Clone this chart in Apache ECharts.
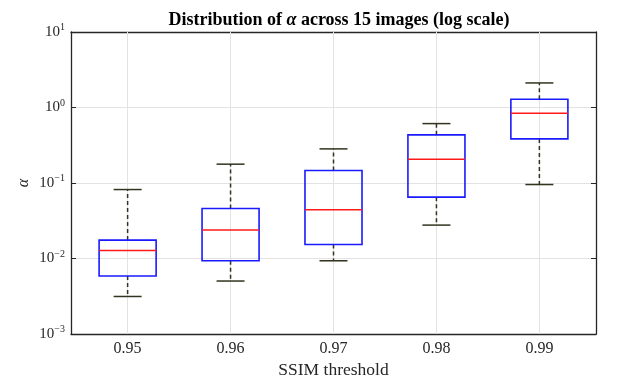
<!DOCTYPE html>
<html><head><meta charset="utf-8">
<script src="https://cdn.jsdelivr.net/npm/echarts@6/dist/echarts.min.js"></script>
<style>html,body{margin:0;padding:0;background:#fff}#c{width:629px;height:385px}</style>
</head><body><div id="c"></div>
<script>
const thresholds = [0.95, 0.96, 0.97, 0.98, 0.99];
const tickLabels = ['0.95', '0.96', '0.97', '0.98', '0.99'];
const whiskerLow  = [0.00314, 0.00503, 0.00933, 0.0277, 0.0954];
const q1          = [0.00586, 0.00933, 0.0153, 0.0650, 0.384];
const median      = [0.01277, 0.0238, 0.0441, 0.207, 0.840];
const q3          = [0.01754, 0.0459, 0.1462, 0.434, 1.287];
const whiskerHigh = [0.0819, 0.1776, 0.283, 0.612, 2.115];
const yTicks = [0.001, 0.01, 0.1, 1, 10];

const FONT = 'Liberation Serif';
const data = thresholds.map((t, i) => [t, whiskerLow[i], q1[i], median[i], q3[i], whiskerHigh[i]]);

function expLabel(v) {
  const e = Math.round(Math.log10(v));
  return '{b|10}{s|' + (e < 0 ? '\u2212' + (-e) : e) + '}';
}

const chart = echarts.init(document.getElementById('c'), null, {renderer: 'canvas'});
const halfBox = 0.00277, halfCap = 0.00136;
const axisCol = '#262626';

const xBase = {
  type: 'value', min: 0.9445, max: 0.9955,
  axisLine: {show: true, onZero: false, lineStyle: {color: axisCol, width: 1.3}},
  axisTick: {show: true, inside: true, length: 5, customValues: thresholds, lineStyle: {color: axisCol, width: 1}},
  splitLine: {show: false}
};
const yBase = {
  type: 'log', logBase: 10, min: 0.001, max: 10,
  axisLine: {show: true, onZero: false, lineStyle: {color: axisCol, width: 1.3}},
  axisTick: {show: true, inside: true, length: 5, lineStyle: {color: axisCol, width: 1}},
  minorTick: {show: false}
};

chart.setOption({
  animation: false,
  backgroundColor: '#fff',
  title: {
    text: 'Distribution of {a|α} across 15 images (log scale)',
    left: 334, top: 6, textAlign: 'center',
    textStyle: {fontFamily: FONT, fontSize: 18, fontWeight: 'bold', color: '#000',
      rich: {a: {fontFamily: FONT, fontSize: 18, fontStyle: 'italic', fontWeight: 'bold', color: '#000'}}}
  },
  graphic: [{
    type: 'text', x: 24, y: 183, rotation: Math.PI / 2,
    style: {text: 'α', fontFamily: FONT, fontSize: 16, fontStyle: 'italic', fill: '#262626',
      align: 'center', verticalAlign: 'middle'}
  }],
  grid: {left: 71, right: 33, top: 32, bottom: 51},
  xAxis: [
    Object.assign({}, xBase, {
      position: 'bottom',
      name: 'SSIM threshold', nameLocation: 'middle', nameGap: 26,
      nameTextStyle: {fontFamily: FONT, fontSize: 17.5, color: '#262626'},
      axisLabel: {show: true, customValues: thresholds, margin: 7,
        formatter: v => tickLabels[thresholds.findIndex(t => Math.abs(t - v) < 1e-6)] || '',
        fontFamily: FONT, fontSize: 16, color: '#262626'}
    }),
    Object.assign({}, xBase, {position: 'top', axisLabel: {show: false}})
  ],
  yAxis: [
    Object.assign({}, yBase, {
      position: 'left',
      splitLine: {show: true, lineStyle: {color: '#e3e3e3', width: 1}},
      axisLabel: {show: true, margin: 6, formatter: v => expLabel(v),
        rich: {b: {fontFamily: FONT, fontSize: 15, color: '#262626'},
               s: {fontFamily: FONT, fontSize: 10, color: '#262626', verticalAlign: 'bottom', padding: [0, 0, 9, 0]}}}
    }),
    Object.assign({}, yBase, {position: 'right', axisLabel: {show: false}, splitLine: {show: false}})
  ],
  series: [
    {
      type: 'line', data: [], xAxisIndex: 0, yAxisIndex: 0, silent: true, z: 1,
      markLine: {
        symbol: 'none', silent: true, label: {show: false}, z: 1,
        lineStyle: {color: '#e3e3e3', width: 1, type: 'solid'},
        data: thresholds.map(t => ({xAxis: t}))
      }
    },
    {
      type: 'custom', xAxisIndex: 0, yAxisIndex: 0, data: data, z: 10,
      encode: {x: 0, y: [1, 2, 3, 4, 5]},
      renderItem: function (params, api) {
        const x = api.value(0);
        const lo = api.value(1), a = api.value(2), m = api.value(3), b = api.value(4), hi = api.value(5);
        const c = (xx, yy) => api.coord([xx, yy]);
        const pLo = c(x, lo), pA = c(x, a), pB = c(x, b), pHi = c(x, hi);
        const xl = c(x - halfBox, m)[0], xr = c(x + halfBox, m)[0];
        const cl = c(x - halfCap, m)[0], cr = c(x + halfCap, m)[0];
        const yM = c(x, m)[1];
        const wStyle = {stroke: '#33331f', lineWidth: 1.5, lineDash: [4, 3]};
        const cStyle = {stroke: '#33331f', lineWidth: 1.5};
        return {
          type: 'group',
          children: [
            {type: 'line', shape: {x1: pB[0], y1: pB[1], x2: pHi[0], y2: pHi[1]}, style: wStyle},
            {type: 'line', shape: {x1: pA[0], y1: pA[1], x2: pLo[0], y2: pLo[1]}, style: wStyle},
            {type: 'line', shape: {x1: cl, y1: pHi[1], x2: cr, y2: pHi[1]}, style: cStyle},
            {type: 'line', shape: {x1: cl, y1: pLo[1], x2: cr, y2: pLo[1]}, style: cStyle},
            {type: 'rect', shape: {x: xl, y: pB[1], width: xr - xl, height: pA[1] - pB[1]},
              style: {fill: 'none', stroke: '#1a1aff', lineWidth: 1.6}},
            {type: 'line', shape: {x1: xl, y1: yM, x2: xr, y2: yM}, style: {stroke: '#ff1a1a', lineWidth: 1.5}}
          ]
        };
      }
    }
  ]
});
</script>
</body></html>
